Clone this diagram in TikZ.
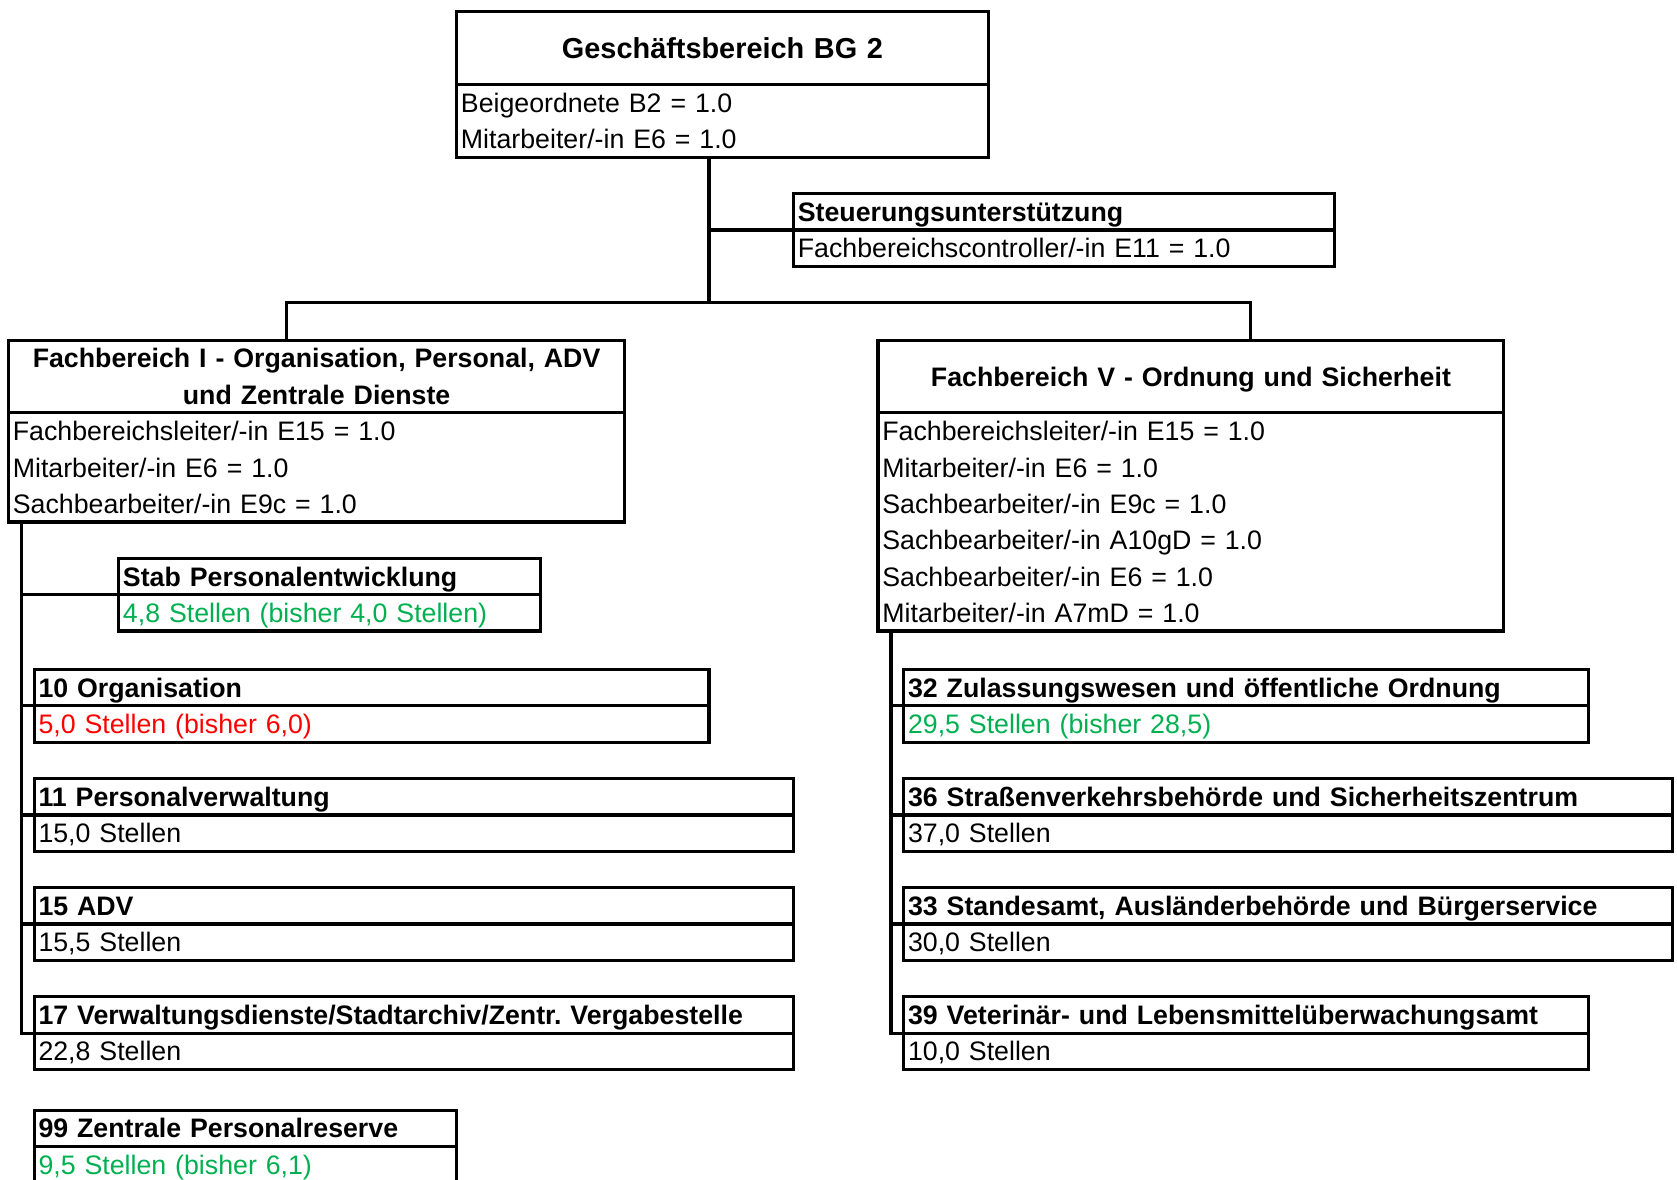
\documentclass[tikz,border=0pt]{standalone}
\usepackage{fontspec}
\setmainfont{Liberation Sans}
\usetikzlibrary{positioning}
\definecolor{plus}{RGB}{0,176,80}
\definecolor{minus}{RGB}{255,0,0}
\newcommand{\zeile}{\rule[-8pt]{0pt}{34pt}}
\frenchspacing

\begin{document}
\begin{tikzpicture}[x=1pt,y=-1pt,line width=3pt,
                box/.style={draw,rectangle,inner xsep=4pt,inner ysep=0pt,outer sep=0pt,
                            anchor=north west,align=left,font=\fontsize{25}{34}\selectfont},
                head node/.style={box,text width=#1,minimum height=34pt,font=\fontsize{25}{34}\selectfont\bfseries},
                body node/.style={box,text width=#1},
                top node/.style={box,text width=#1,align=center,minimum height=68pt,font=\fontsize{25}{34}\selectfont\bfseries}]
	\useasboundingbox (0,0) rectangle (1568,1103.3);

	% Leitung
	\node[top node=489,font=\fontsize{27}{34}\selectfont\bfseries] (gb) at (427,11) {Geschäftsbereich BG 2};
	\node[body node=489,below=0pt of gb] (gb-b) {\zeile Beigeordnete B2 = 1.0\\\zeile Mitarbeiter/-in E6 = 1.0};
	\node[head node=498] (steu) at (742,181) {\zeile Steuerungsunterstützung};
	\node[body node=498,below=0pt of steu] (steu-b) {\zeile Fachbereichscontroller/-in E11 = 1.0};

	% Fachbereich I
	\node[top node=568] (fb1) at (8,318) {\zeile Fachbereich I - Organisation, Personal, ADV\\\zeile und Zentrale Dienste};
	\node[body node=568,below=0pt of fb1] (fb1-b) {\zeile Fachbereichsleiter/-in E15 = 1.0\\\zeile Mitarbeiter/-in E6 = 1.0\\\zeile Sachbearbeiter/-in E9c = 1.0};
	\node[head node=386] (stab) at (111,522) {\zeile Stab Personalentwicklung};
	\node[body node=386,below=0pt of stab,text=plus] (stab-b) {\zeile 4,8 Stellen (bisher 4,0 Stellen)};
	\node[head node=623] (o10) at (32,626) {\zeile 10 Organisation};
	\node[body node=623,below=0pt of o10,text=minus] (o10-b) {\zeile 5,0 Stellen (bisher 6,0)};
	\node[head node=702] (o11) at (32,728) {\zeile 11 Personalverwaltung};
	\node[body node=702,below=0pt of o11] (o11-b) {\zeile 15,0 Stellen};
	\node[head node=702] (o15) at (32,830) {\zeile 15 ADV};
	\node[body node=702,below=0pt of o15] (o15-b) {\zeile 15,5 Stellen};
	\node[head node=702] (o17) at (32,932) {\zeile 17 Verwaltungsdienste/Stadtarchiv/Zentr. Vergabestelle};
	\node[body node=702,below=0pt of o17] (o17-b) {\zeile 22,8 Stellen};
	\node[head node=387] (o99) at (32,1038) {\zeile 99 Zentrale Personalreserve};
	\node[body node=387,below=0pt of o99,text=plus] (o99-b) {\zeile 9,5 Stellen (bisher 6,1)};

	% Fachbereich V
	\node[top node=577] (fb5) at (821,318) {\zeile Fachbereich V - Ordnung und Sicherheit};
	\node[body node=577,below=0pt of fb5] (fb5-b) {\zeile Fachbereichsleiter/-in E15 = 1.0\\\zeile Mitarbeiter/-in E6 = 1.0\\\zeile Sachbearbeiter/-in E9c = 1.0\\\zeile Sachbearbeiter/-in A10gD = 1.0\\\zeile Sachbearbeiter/-in E6 = 1.0\\\zeile Mitarbeiter/-in A7mD = 1.0};
	\node[head node=632] (o32) at (845,626) {\zeile 32 Zulassungswesen und öffentliche Ordnung};
	\node[body node=632,below=0pt of o32,text=plus] (o32-b) {\zeile 29,5 Stellen (bisher 28,5)};
	\node[head node=711] (o36) at (845,728) {\zeile 36 Straßenverkehrsbehörde und Sicherheitszentrum};
	\node[body node=711,below=0pt of o36] (o36-b) {\zeile 37,0 Stellen};
	\node[head node=711] (o33) at (845,830) {\zeile 33 Standesamt, Ausländerbehörde und Bürgerservice};
	\node[body node=711,below=0pt of o33] (o33-b) {\zeile 30,0 Stellen};
	\node[head node=632] (o39) at (845,932) {\zeile 39 Veterinär- und Lebensmittelüberwachungsamt};
	\node[body node=632,below=0pt of o39] (o39-b) {\zeile 10,0 Stellen};

	% Verbindungen
	\coordinate (hub) at (663,283);
	\coordinate (j1) at (268,283);
	\coordinate (j5) at (1169,283);
	\coordinate (s1) at (20,0);
	\coordinate (s5) at (833,0);

	\draw (gb-b.south -| hub) -- (hub);
	\draw (steu.south west) -- (steu.south west -| hub);
	\draw (fb1.north -| j1) |- (j5) -- (fb5.north -| j5);
	\draw (fb1-b.south -| s1) |- (o17.south west);
	\draw (fb5-b.south -| s5) |- (o39.south west);
	\foreach \n in {stab,o10,o11,o15}
		\draw (\n.south west) -- (\n.south west -| s1);
	\foreach \n in {o32,o36,o33}
		\draw (\n.south west) -- (\n.south west -| s5);

\end{tikzpicture}
\end{document}
